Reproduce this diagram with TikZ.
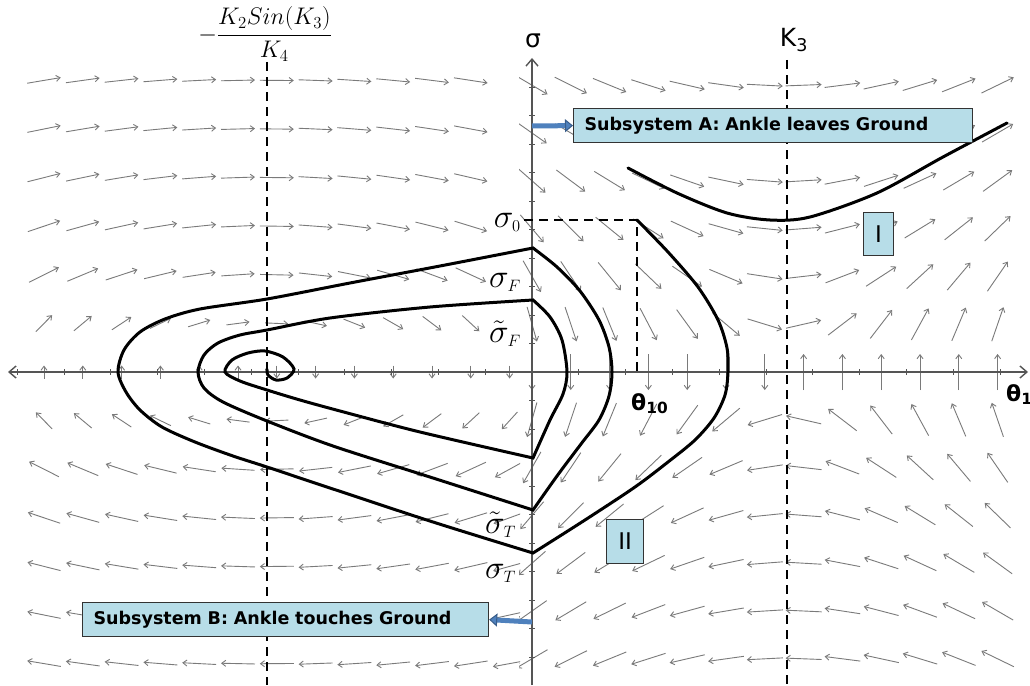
\RequirePackage{fix-cm}
\documentclass[tikz,border=0pt]{standalone}
\usepackage{amsmath}
\usepackage{fontspec}
\setsansfont{DejaVu Sans}
\usetikzlibrary{arrows.meta}

\definecolor{boxblue}{HTML}{B7DDE8}
\definecolor{arrblue}{HTML}{4F81BD}
\definecolor{arrline}{HTML}{385D8A}
\definecolor{fieldgray}{HTML}{7A7A7A}
\definecolor{axisgray}{HTML}{555555}

\tikzset{
  field/.style={fieldgray, line width=0.9pt, -{Straight Barb[length=4pt,width=6pt]}},
  axis/.style={axisgray, line width=1.4pt},
  tick/.style={axisgray, line width=0.8pt},
  guide/.style={black, line width=2.4pt, dash pattern=on 9pt off 6pt},
  traj/.style={black, line width=3pt, line cap=round},
  subbox/.style={draw=black!80, fill=boxblue, line width=1.2pt, anchor=north west,
    font=\sffamily\bfseries\fontsize{17.5}{19}\selectfont, inner xsep=11pt,
    minimum height=34pt, align=left},
  regbox/.style={draw=black!80, fill=boxblue, line width=1.2pt, anchor=north west,
    font=\sffamily\fontsize{23}{25}\selectfont, inner sep=0pt},
  blockarrow/.style={arrblue, line width=5pt,
    -{Triangle[length=8pt,width=13pt,fill=arrblue,color=arrline,line width=1pt]}},
  lab/.style={font=\fontsize{33}{36}\selectfont, inner sep=0pt},
  axlab/.style={font=\sffamily\fontsize{25}{28}\selectfont, inner sep=0pt},
  thlab/.style={font=\sffamily\bfseries\fontsize{22}{24}\selectfont, inner sep=0pt},
}
\newcommand{\sub}[1]{_{\scriptscriptstyle #1}}

\begin{document}
\begin{tikzpicture}[x=1pt, y=-1pt]

\path[use as bounding box, fill=white] (0,0) rectangle (1030,685);

% Поле слева (центр)
\begin{scope}
  \clip (0,0) rectangle (490,360) (0,360) rectangle (520,685);
  \foreach \i in {0,...,12}
    \foreach \j in {-6,...,6} {
      \pgfmathsetmacro\px{44+38.8*\i}
      \pgfmathsetmacro\sg{-48.6*\j}
      \pgfmathsetmacro\an{-atan2(0.22*(267-\px),\sg)}
      \pgfmathsetmacro\hl{(13+21*min(1,abs(\sg)/100))/2}
      \draw[field] (\px,372+48.6*\j) ++(\an:-\hl) -- ++(\an:2*\hl);
    }
\end{scope}

% Поле справа (седло)
\begin{scope}
  \clip (519,0) rectangle (1030,685);
  \foreach \i in {0,...,12}
    \foreach \j in {-6,...,6} {
      \pgfmathsetmacro\px{532+38.8*\i}
      \pgfmathsetmacro\sg{-47.8*\j}
      \pgfmathsetmacro\an{-atan2(0.66*(\px-787),\sg)}
      \draw[field] (\px,372+47.8*\j) ++(\an:-18) -- ++(\an:36);
    }
\end{scope}

% Оси
\coordinate (xl) at (8,372);
\coordinate (xr) at (1028,372);
\coordinate (yb) at (532,685);
\coordinate (yt) at (532,58);
\draw[axis, {Straight Barb[length=7pt,width=12pt]}-{Straight Barb[length=7pt,width=12pt]}] (xl) -- (xr);
\draw[axis, -{Straight Barb[length=7pt,width=12pt]}] (yb) -- (yt);
\foreach \k in {-11,...,-1,1,2,...,10}
  \draw[tick] (532+46.8*\k,369) -- ++(0,6);
\foreach \k in {-10,...,-1,1,2,...,10}
  \draw[tick] (529,372+28.5*\k) -- ++(6,0);

% Пунктирные прямые
\coordinate (g1t) at (267,62);
\coordinate (g1b) at (267,685);
\coordinate (g2t) at (787,60);
\coordinate (g2b) at (787,685);
\draw[guide] (g1t) -- (g1b);
\draw[guide] (g2t) -- (g2b);

\coordinate (s0) at (524,220);
\coordinate (t10) at (637,372);
\draw[guide] (s0) -| (t10);

% Траектория
\draw[traj]
  plot[smooth] coordinates {(637,220) (668,252) (698,287) (718,320) (727,348) (728,372)
    (725,395) (714,418) (695,440) (668,462) (635,487) (585,520) (533,553)}
  -- plot[smooth] coordinates {(533,553) (433,522) (333,489) (267,467) (233,456)
    (195,442) (162,427) (140,410) (126,392) (118,372) (124,350) (140,332) (165,319)
    (200,309) (267,299) (350,283) (440,266) (533,248)}
  -- plot[smooth] coordinates {(533,248) (557,267) (580,291) (599,320) (609,347)
    (612,372) (609,396) (599,420) (581,444) (557,476) (533,510)}
  -- plot[smooth] coordinates {(533,510) (433,478) (333,446) (267,421) (223,402)
    (204,388) (198,372) (204,355) (218,343) (240,335) (267,330) (330,318) (430,307)
    (533,300)}
  -- plot[smooth] coordinates {(533,300) (550,317) (562,340) (567,372) (563,394)
    (550,420) (533,458)}
  -- plot[smooth] coordinates {(533,458) (420,432) (340,411) (300,400) (267,390)
    (240,381) (225,372) (232,360) (248,353) (265,351) (283,357) (294,369) (287,378)
    (276,380) (268,375) (267,369)};

\draw[traj] plot[smooth] coordinates {(628,168) (677,193) (727,213) (770,220)
  (810,217) (877,193) (943,157) (1007,123)};

% Подписи
\node[font=\fontsize{24}{26}\selectfont] (cst) at (265,34)
  {$-\dfrac{K_2 Sin(K_3)}{K_4}$};
\node[axlab] (sig) at (533,41) {σ};
\node[axlab, anchor=base] (k3) at (794,47) {K\textsubscript{3}};
\node[thlab, anchor=base west] (th1) at (1006,401) {θ\textsubscript{1}};
\node[thlab, anchor=base west] (th10) at (631,410) {θ\textsubscript{10}};

\node[lab, anchor=base east] (sig0) at (521,227) {$\sigma\sub{0}$};
\node[lab, anchor=base east] (sigF) at (521,287) {$\sigma\sub{F}$};
\node[lab, anchor=base east] (sigFt) at (521,342) {$\tilde{\sigma}\sub{F}$};
\node[lab, anchor=base east] (sigTt) at (516,533) {$\tilde{\sigma}\sub{T}$};
\node[lab, anchor=base east] (sigT) at (516,578) {$\sigma\sub{T}$};

% Подсистемы
\node[subbox, text width=377pt] (boxA) at (573,108) {Subsystem A: Ankle leaves Ground};
\node[subbox, text width=384pt] (boxB) at (82,602) {Subsystem B: Ankle touches Ground};
\node[regbox, minimum width=30pt, minimum height=43pt] (reg1) at (863,212) {I};
\node[regbox, minimum width=37pt, minimum height=44pt] (reg2) at (606,519) {II};

\coordinate (sA) at (532,126);
\coordinate (sB) at (532,622);
\draw[blockarrow] (sA) -- (boxA.west);
\draw[blockarrow] (sB) -- (boxB.east);

\end{tikzpicture}
\end{document}
